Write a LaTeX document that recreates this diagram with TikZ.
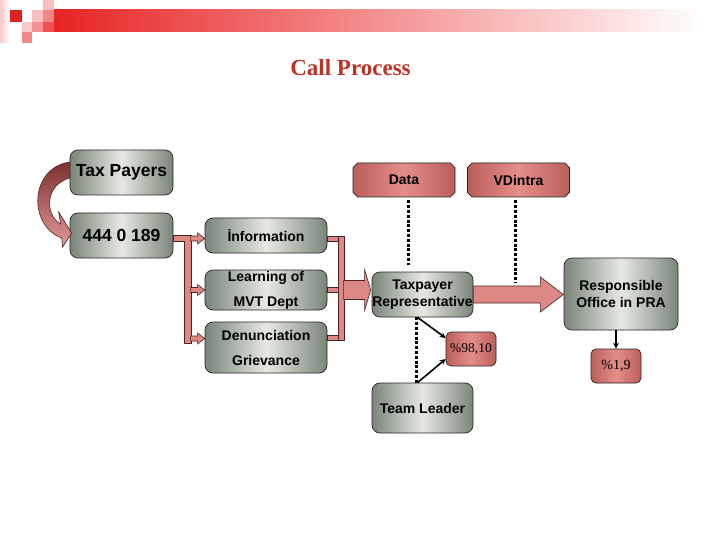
\documentclass[tikz,border=0pt]{standalone}
\usepackage{fontspec}
\setmainfont{Liberation Serif}
\setsansfont{Liberation Sans}
\usetikzlibrary{calc,shapes.misc}
\definecolor{boxmid}{RGB}{230,233,226}
\definecolor{boxedge}{RGB}{122,133,122}
\definecolor{redmid}{RGB}{228,142,137}
\definecolor{rededge}{RGB}{188,94,90}
\definecolor{barfill}{RGB}{222,136,133}
\definecolor{barline}{RGB}{75,35,35}
\definecolor{curvetop}{RGB}{125,48,48}
\definecolor{titlered}{RGB}{190,50,35}
\definecolor{bannerred}{RGB}{232,36,36}
\begin{document}
\begin{tikzpicture}[x=1pt, y=-1pt, >=stealth,
  graybox/.style={draw=black!85, line width=0.7pt, rounded corners=8pt, left color=boxedge, right color=boxedge, middle color=boxmid, align=center, inner sep=0pt, font=\sffamily\bfseries\fontsize{14}{16}\selectfont},
  redbox/.style={draw=black!85, line width=0.7pt, rounded corners=5pt, left color=rededge, right color=rededge, middle color=redmid, inner sep=0pt, minimum width=50pt, minimum height=34pt, font=\fontsize{14}{16}\selectfont},
  tagbox/.style={draw=black!85, line width=0.7pt, chamfered rectangle, chamfered rectangle xsep=2.3pt, chamfered rectangle ysep=2.3pt, left color=rededge, right color=rededge, middle color=redmid, inner sep=0pt, minimum width=102pt, minimum height=34pt, font=\sffamily\bfseries\fontsize{14}{16}\selectfont},
  fatarrow/.style={draw=barline, fill=barfill, line width=0.6pt},
  dotline/.style={line width=3pt, dash pattern=on 3pt off 1.8pt},
  blackarrow/.style={->, line width=1.6pt}]
\useasboundingbox (0,0) rectangle (720,540);
\fill[white] (0,0) rectangle (720,540);
\shade[left color=bannerred!25, right color=white] (0,0) rectangle (10,43);
\shade[left color=bannerred, right color=white] (54,10) rectangle (705,32);
\fill[bannerred!95!black] (10,10) rectangle (22,22);
\fill[bannerred!30] (32,10) rectangle (43,22);
\fill[bannerred!30] (43,0) rectangle (54,10);
\fill[bannerred!55] (43,10) rectangle (54,22);
\fill[bannerred!80] (43,22) rectangle (54,32);
\fill[bannerred!25] (22,22) rectangle (32,32);
\fill[bannerred!50] (32,22) rectangle (43,32);
\fill[bannerred!55] (22,32) rectangle (32,43);
\node[font=\bfseries\fontsize{23}{26}\selectfont, text=titlered] (title) at (350.5,68) {Call Process};
\node[graybox, minimum width=103pt, minimum height=45pt, font=\sffamily\bfseries\fontsize{17.5}{20}\selectfont] (tax) at (121.5,172.5) {Tax Payers};
\node[graybox, minimum width=103pt, minimum height=45pt, font=\sffamily\bfseries\fontsize{17.5}{20}\selectfont] (num) at (121.5,235.5) {444 0 189};
\node[graybox, minimum width=122pt, minimum height=35pt] (info) at (266,235.5) {İnformation};
\node[graybox, minimum width=122pt, minimum height=40pt, font=\sffamily\bfseries\fontsize{14}{25}\selectfont] (learn) at (266,290) {Learning of\\MVT Dept};
\node[graybox, minimum width=122pt, minimum height=51pt, font=\sffamily\bfseries\fontsize{14}{25}\selectfont] (denun) at (266,347.5) {Denunciation\\Grievance};
\node[tagbox] (data) at (404,180) {Data};
\node[tagbox] (vdintra) at (518.5,180) {VDintra};
\node[graybox, minimum width=101pt, minimum height=45pt, font=\sffamily\bfseries\fontsize{14}{16.5}\selectfont] (rep) at (422.5,294.5) {Taxpayer\\Representative};
\node[graybox, minimum width=114pt, minimum height=72pt, font=\sffamily\bfseries\fontsize{14}{17}\selectfont] (resp) at (621,294) {Responsible\\Office in PRA};
\node[redbox, font=\fontsize{13.5}{16}\selectfont] (pct98) at (471,349) {\%98,10};
\node[graybox, minimum width=101pt, minimum height=50pt] (team) at (422.5,408) {Team Leader};
\node[redbox] (pct19) at (616,366) {\%1,9};
\draw[draw=barline, line width=0.6pt, top color=curvetop, bottom color=barfill!85] ($(tax.west)+(0,-10.5)$) .. controls +(-40,6) and +(-34,-13) .. ($(num.west)+(-8,2.5)$) -- ++(1,9) -- ($(num.west)+(2,-2.5)$) -- ($(num.west)+(-11,-23.5)$) -- ++(2,12) .. controls +(-16,-9) and +(-25,7) .. ($(tax.west)+(0,5.5)$) -- cycle;
\draw[fatarrow] (num.east) -- (191,235.5) -- (191,343) -- (184,343) -- (184,241) -- ($(num.east)+(0,5.5)$) -- cycle;
\draw[fatarrow] ($(info.west)+(-14,0.5)$) -- ++(7,0) -- ++(0,-3) -- ++(7,5.5) -- ++(-7,5.5) -- ++(0,-3) -- ++(-7,0) -- cycle;
\draw[fatarrow] ($(learn.west)+(-14,-2.5)$) -- ++(7,0) -- ++(0,-3) -- ++(7,5.5) -- ++(-7,5.5) -- ++(0,-3) -- ++(-7,0) -- cycle;
\draw[fatarrow] ($(denun.west)+(-14,-11.5)$) -- ++(7,0) -- ++(0,-3) -- ++(7,5.5) -- ++(-7,5.5) -- ++(0,-3) -- ++(-7,0) -- cycle;
\draw[fatarrow] ($(info.east)+(0,0.5)$) rectangle (338,241);
\draw[fatarrow] ($(learn.east)+(0,-2.5)$) rectangle (338,292.5);
\draw[fatarrow] ($(denun.east)+(0,-12.5)$) rectangle (338,340);
\draw[fatarrow] (338,236) rectangle (344,340);
\draw[fatarrow] ($(rep.west)+(-28,-14)$) -- ++(21,0) -- ++(0,-11) -- ++(6,20.5) -- ++(-6,20.5) -- ++(0,-11) -- ++(-21,0) -- cycle;
\draw[fatarrow] ($(rep.east)+(0,-8.5)$) -- ++(67,0) -- ++(0,-9) -- ++(23,17.5) -- ++(-23,17.5) -- ++(0,-9) -- ++(-67,0) -- cycle;
\draw[dotline, shorten <=3pt, shorten >=7pt] ([xshift=4pt]data.south) -- ([xshift=4pt]data.south |- rep.north);
\draw[dotline, shorten <=3pt, shorten >=12pt] ([xshift=-3.5pt]vdintra.south) -- ([xshift=-3.5pt]vdintra.south |- rep.east);
\draw[dotline] ([xshift=-6.5pt]rep.south) -- ([xshift=-6.5pt]team.north);
\draw[blackarrow] ($(rep.south)+(-5,0)$) -- ($(pct98.west)+(0,-11)$);
\draw[blackarrow] ($(team.north)+(-5,0)$) -- ($(pct98.west)+(0,10)$);
\draw[blackarrow] (pct19.north |- resp.south) -- (pct19.north);
\end{tikzpicture}
\end{document}
